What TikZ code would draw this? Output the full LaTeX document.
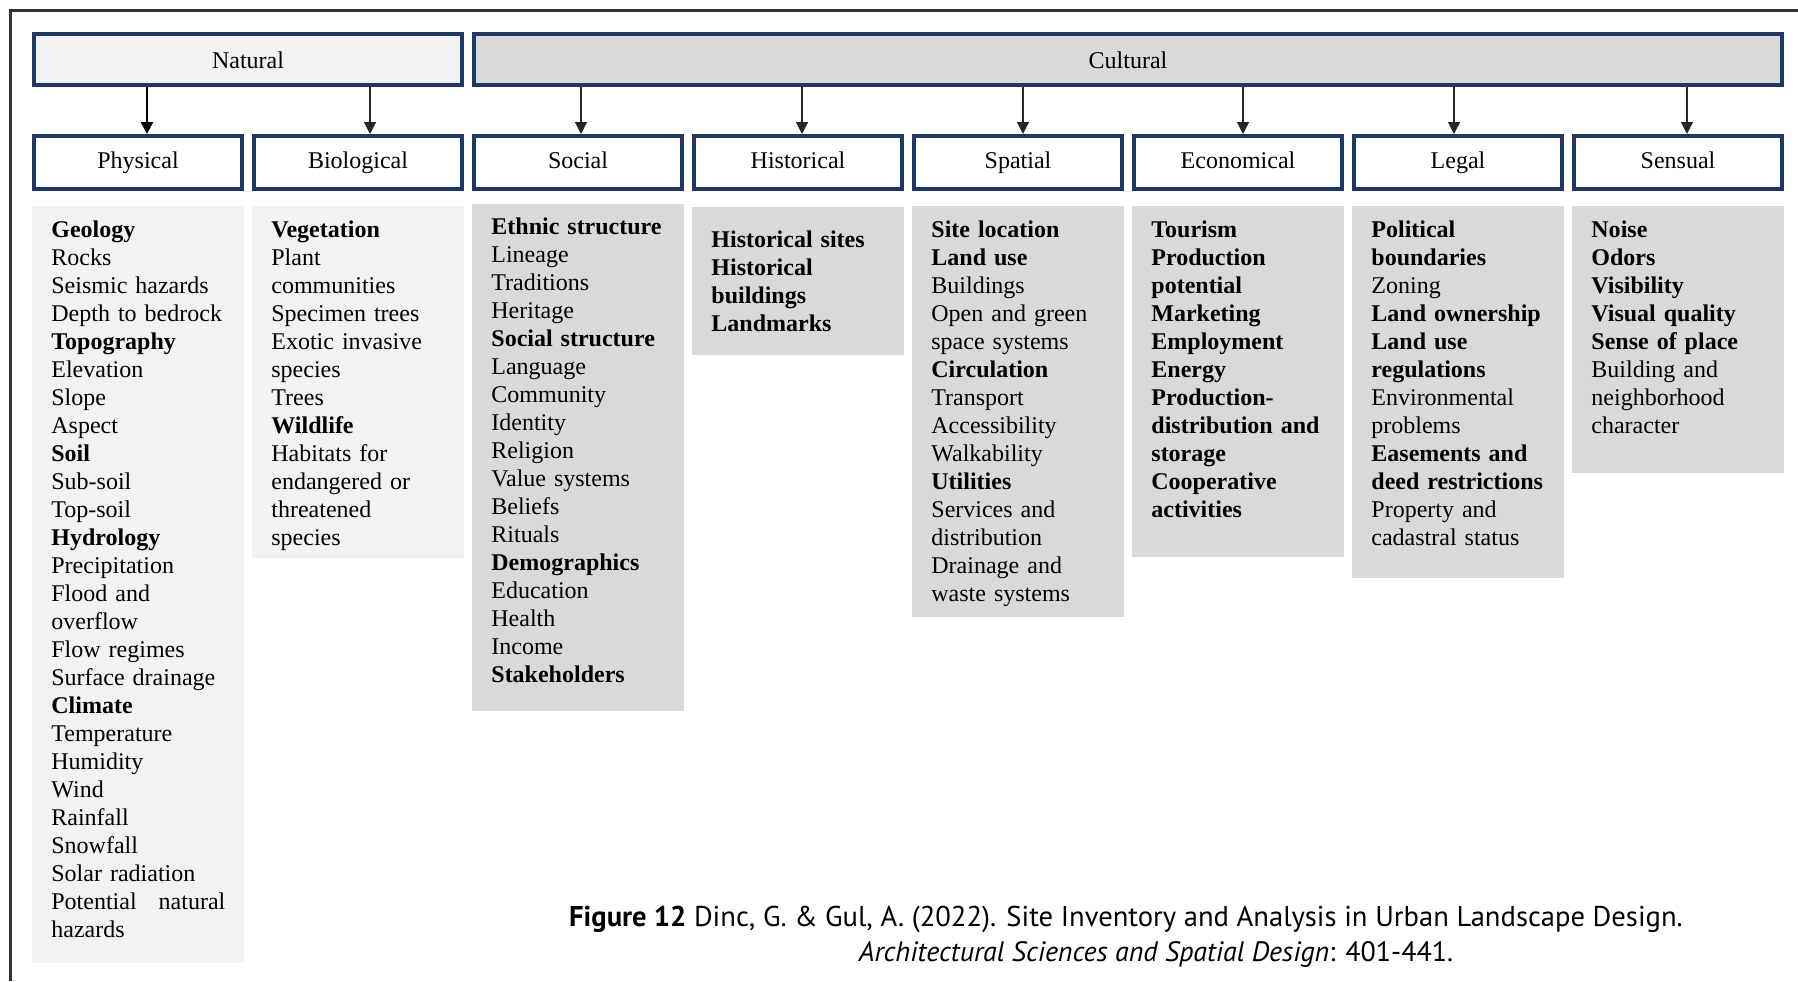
\documentclass[tikz,border=0pt]{standalone}
\usepackage{fontspec}
\setmainfont{Liberation Serif}
\newfontfamily\captionfont{PT Sans}
\usetikzlibrary{positioning,arrows.meta}

\definecolor{boxblue}{HTML}{203864}
\definecolor{lightpanel}{HTML}{F2F2F2}
\definecolor{darkpanel}{HTML}{D9D9D9}

\tikzset{
  groupbox/.style={draw=boxblue, line width=1.8pt, minimum height=25.7pt, text height=10.2pt, text depth=0.8pt, font=\fontsize{12}{14}\selectfont},
  classbox/.style={draw=boxblue, line width=1.8pt, fill=white, minimum width=104.2pt, minimum height=26.7pt, text height=8.5pt, text depth=2.5pt, font=\fontsize{12}{14}\selectfont},
  panel/.style={minimum width=106pt, inner sep=0pt, outer sep=0pt, anchor=north},
  itemlist/.style={anchor=north west, text width=95pt, align=left, inner xsep=9.5pt, inner ysep=5.7pt, font=\fontsize{12}{14}\selectfont, execute at begin node=\strut},
  link/.style={-{Triangle[width=6pt,length=6pt]}, line width=0.6pt, draw=black!85, fill=black}
}

\begin{document}
\begin{tikzpicture}
  \useasboundingbox (0,0) rectangle (899pt,-490.5pt);
  \draw[line width=1.2pt, draw=black!80] (899pt,-5.2pt) -| (5.2pt,-490.5pt);

  % Define nodes
  \node[groupbox, fill=lightpanel, minimum width=214.2pt, anchor=north west] (natural) at (16pt,-16pt) {Natural};
  \node[groupbox, fill=darkpanel, minimum width=654.2pt, right=4pt of natural] (cultural) {Cultural};

  \node[classbox, below=23.5pt of natural.south west, anchor=north west] (physical) {Physical};
  \node[classbox, right=4pt of physical]   (biological) {Biological};
  \node[classbox, right=4pt of biological] (social)     {Social};
  \node[classbox, right=4pt of social]     (historical) {Historical};
  \node[classbox, right=4pt of historical] (spatial)    {Spatial};
  \node[classbox, right=4pt of spatial]    (economical) {Economical};
  \node[classbox, right=4pt of economical] (legal)      {Legal};
  \node[classbox, right=4pt of legal]      (sensual)    {Sensual};

  \node[panel, fill=lightpanel, minimum height=378.5pt, below=7.5pt of physical]  (physicalpanel) {};
  \node[panel, fill=lightpanel, minimum height=176pt, below=7.5pt of biological]  (biologicalpanel) {};
  \node[panel, fill=darkpanel, minimum height=253.5pt, below=6.5pt of social]     (socialpanel) {};
  \node[panel, fill=darkpanel, minimum height=74pt, below=8pt of historical]      (historicalpanel) {};
  \node[panel, fill=darkpanel, minimum height=205.5pt, below=7.5pt of spatial]    (spatialpanel) {};
  \node[panel, fill=darkpanel, minimum height=175.5pt, below=7.5pt of economical] (economicalpanel) {};
  \node[panel, fill=darkpanel, minimum height=186pt, below=7.5pt of legal]        (legalpanel) {};
  \node[panel, fill=darkpanel, minimum height=133.5pt, below=7.5pt of sensual]    (sensualpanel) {};

  \node[itemlist] (physicallist) at (physicalpanel.north west) {\textbf{Geology}\\Rocks\\Seismic hazards\\Depth to bedrock\\\textbf{Topography}\\Elevation\\Slope\\Aspect\\\textbf{Soil}\\Sub-soil\\Top-soil\\\textbf{Hydrology}\\Precipitation\\Flood and\\overflow\\Flow regimes\\Surface drainage\\\textbf{Climate}\\Temperature\\Humidity\\Wind\\Rainfall\\Snowfall\\Solar radiation\\Potential\hspace{11pt}natural\\hazards};
  \node[itemlist] (biologicallist) at (biologicalpanel.north west) {\textbf{Vegetation}\\Plant\\communities\\Specimen trees\\Exotic invasive\\species\\Trees\\\textbf{Wildlife}\\Habitats for\\endangered or\\threatened\\species};
  \node[itemlist, yshift=0.5pt] (sociallist) at (socialpanel.north west) {\textbf{Ethnic structure}\\Lineage\\Traditions\\Heritage\\\textbf{Social structure}\\Language\\Community\\Identity\\Religion\\Value systems\\Beliefs\\Rituals\\\textbf{Demographics}\\Education\\Health\\Income\\\textbf{Stakeholders}};
  \node[itemlist, yshift=-4.5pt] (historicallist) at (historicalpanel.north west) {\textbf{Historical sites}\\\textbf{Historical}\\\textbf{buildings}\\\textbf{Landmarks}};
  \node[itemlist] (spatiallist) at (spatialpanel.north west) {\textbf{Site location}\\\textbf{Land use}\\Buildings\\Open and green\\space systems\\\textbf{Circulation}\\Transport\\Accessibility\\Walkability\\\textbf{Utilities}\\Services and\\distribution\\Drainage and\\waste systems};
  \node[itemlist, font=\fontsize{12}{14}\selectfont\bfseries] (economicallist) at (economicalpanel.north west) {Tourism\\Production\\potential\\Marketing\\Employment\\Energy\\Production-\\distribution and\\storage\\Cooperative\\activities};
  \node[itemlist] (legallist) at (legalpanel.north west) {\textbf{Political}\\\textbf{boundaries}\\Zoning\\\textbf{Land ownership}\\\textbf{Land use}\\\textbf{regulations}\\Environmental\\problems\\\textbf{Easements and}\\\textbf{deed restrictions}\\Property and\\cadastral status};
  \node[itemlist] (sensuallist) at (sensualpanel.north west) {\textbf{Noise}\\\textbf{Odors}\\\textbf{Visibility}\\\textbf{Visual quality}\\\textbf{Sense of place}\\Building and\\neighborhood\\character};

  \node[anchor=base, font=\captionfont\fontsize{14.3}{17}\selectfont] (caption) at (563pt,-463pt) {\textbf{Figure 12} Dinc, G. \& Gul, A. (2022). Site Inventory and Analysis in Urban Landscape Design.};
  \node[anchor=base, font=\captionfont\fontsize{14}{17}\selectfont] (source) at (578pt,-480.5pt) {\textit{Architectural Sciences and Spatial Design}: 401-441.};

  % Connect the nodes
  \draw[link, line width=1.2pt, draw=black] ([xshift=4.5pt]natural.south -| physical.north) -- ([xshift=4.5pt]physical.north);
  \draw[link] ([xshift=6pt]natural.south -| biological.north) -- ([xshift=6pt]biological.north);
  \draw[link] ([xshift=1.5pt]cultural.south -| social.north) -- ([xshift=1.5pt]social.north);
  \draw[link] ([xshift=2pt]cultural.south -| historical.north) -- ([xshift=2pt]historical.north);
  \draw[link] ([xshift=2.5pt]cultural.south -| spatial.north) -- ([xshift=2.5pt]spatial.north);
  \draw[link] ([xshift=2.5pt]cultural.south -| economical.north) -- ([xshift=2.5pt]economical.north);
  \draw[link] ([xshift=-2pt]cultural.south -| legal.north) -- ([xshift=-2pt]legal.north);
  \draw[link] ([xshift=4.5pt]cultural.south -| sensual.north) -- ([xshift=4.5pt]sensual.north);
\end{tikzpicture}
\end{document}
